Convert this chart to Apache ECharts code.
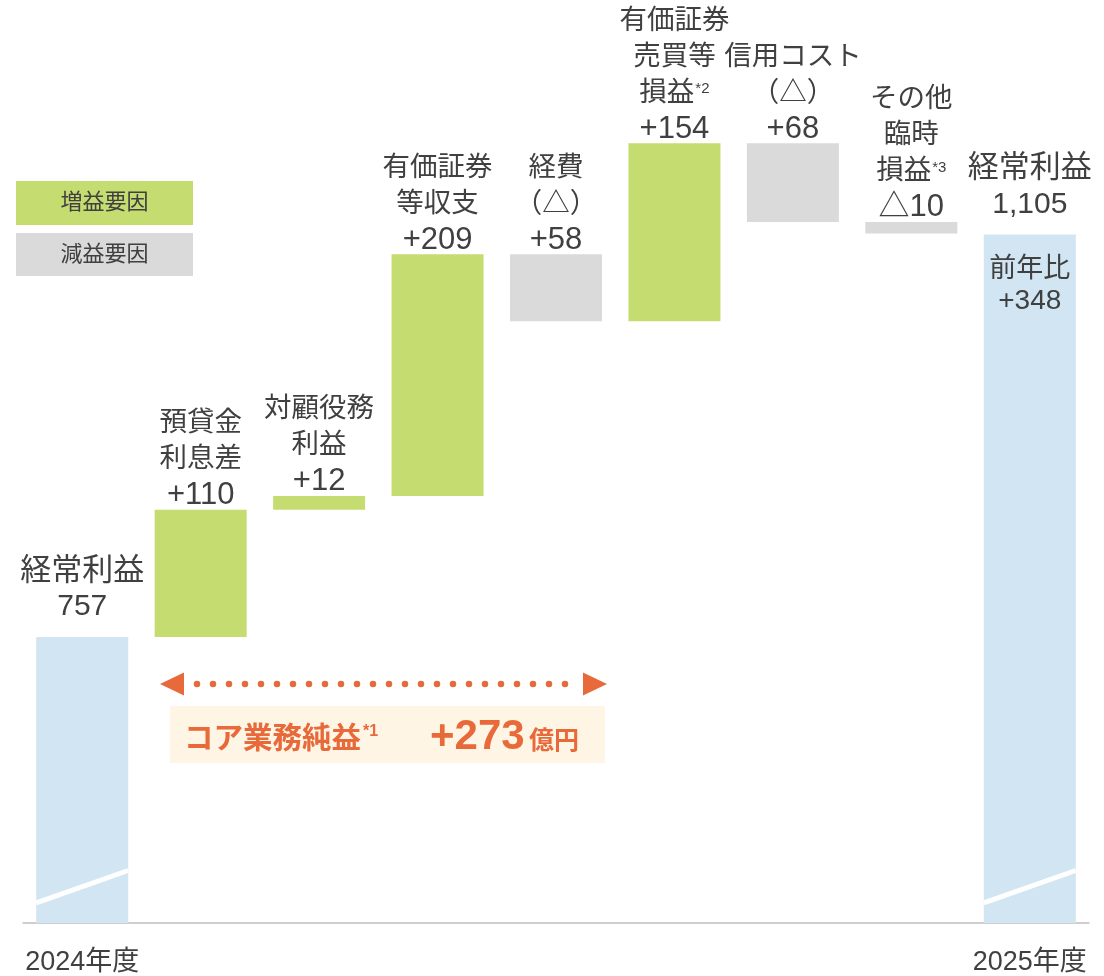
<!DOCTYPE html>
<html>
<head>
<meta charset="utf-8">
<script src="https://cdn.jsdelivr.net/npm/echarts@6/dist/echarts.min.js"></script>
<style>
html,body{margin:0;padding:0;background:#fff;}
#chart{width:1104px;height:976px;}
</style>
</head>
<body>
<div id="chart"></div>
<script>
// ---- data ----
const categories = ['経常利益(2024年度)', '預貸金利息差', '対顧役務利益', '有価証券等収支', '経費', '有価証券売買等損益', '信用コスト', 'その他臨時損益', '経常利益(2025年度)'];
const labelLines = ['経常利益', '預貸金\n利息差', '対顧役務\n利益', '有価証券\n等収支', '経費\n（△）', '有価証券\n売買等\n損益', '信用コスト\n（△）', 'その他\n臨時\n損益', '経常利益'];
const notes = ['', '', '', '', '', '*2', '', '*3', ''];
const values = [757, 110, 12, 209, -58, 154, -68, -10, 1105];
const valueLabels = ['757', '+110', '+12', '+209', '+58', '+154', '+68', '△10', '1,105'];
const tickLabels = ['2024年度', '', '', '', '', '', '', '', '2025年度'];
const yoyLabel = ['前年比', '+348'];
const legendLabels = ['増益要因', '減益要因'];
const coreLabel = 'コア業務純益';
const coreNote = '*1';
const coreValue = '+273';
const coreUnit = '億円';

// ---- styles ----
const FONT = '"Liberation Sans", Arial, "Noto Sans CJK JP", sans-serif';
const TXT = '#404040';
const GREEN = '#c5dd70';
const GRAY = '#dadada';
const BLUE = '#d1e5f2';
const ORANGE = '#e8693a';
const BW = 92;
const BREAK = [527, 555];

const last = values.length - 1;
const base = [], up = [], down = [], total = [], yoy = [], breaks = [];
let cum = 0;
values.forEach((v, i) => {
  if (i === 0 || i === last) {
    base.push(0); up.push('-'); down.push('-'); total.push(v);
    yoy.push(i === last ? v : '-');
    breaks.push([i, v]);
    cum = v;
  } else {
    const s = cum, e = cum + v;
    base.push(Math.min(s, e));
    up.push(v > 0 ? v : '-');
    down.push(v < 0 ? -v : '-');
    total.push('-');
    yoy.push('-');
    cum = e;
  }
});

function midLabel(i) {
  const lines = labelLines[i].split('\n');
  const parts = lines.map((l, k) => '{n|' + l + '}' + (k === lines.length - 1 && notes[i] ? '{s|' + notes[i] + '}' : ''));
  return parts.join('\n') + '\n{v|' + valueLabels[i] + '}';
}
const midRich = {
  n: { fontSize: 27.5, lineHeight: 36, color: TXT, fontFamily: FONT },
  s: { fontSize: 15, lineHeight: 36, color: TXT, fontFamily: FONT, padding: [0, 0, 8, 1] },
  v: { fontSize: 31, lineHeight: 36, color: TXT, fontFamily: FONT }
};

const chart = echarts.init(document.getElementById('chart'), null, { renderer: 'canvas' });
const option = {
  animation: false,
  grid: { left: 23, right: 15, top: 0, bottom: 50 },
  xAxis: {
    type: 'category',
    data: categories,
    axisLine: { show: true, lineStyle: { color: '#c0c0c0', width: 1.5 } },
    axisTick: { show: false },
    axisLabel: {
      interval: 0,
      margin: 26,
      fontSize: 27,
      color: TXT,
      fontFamily: FONT,
      formatter: (v, i) => tickLabels[i]
    }
  },
  yAxis: { type: 'value', min: 509.6, max: 1307.9, show: false, splitLine: { show: false } },
  series: [
    { name: 'base', type: 'bar', stack: 'w', barWidth: BW, barGap: '-100%', data: base, itemStyle: { color: 'transparent' }, silent: true, clip: true },
    { name: '増益要因', type: 'bar', stack: 'w', barWidth: BW, barGap: '-100%', data: up, itemStyle: { color: GREEN }, clip: true,
      label: { show: true, position: 'top', distance: -4, formatter: p => midLabel(p.dataIndex), rich: midRich, align: 'center' } },
    { name: '減益要因', type: 'bar', stack: 'w', barWidth: BW, barGap: '-100%', data: down, itemStyle: { color: GRAY }, clip: true,
      label: { show: true, position: 'top', distance: -4, formatter: p => midLabel(p.dataIndex), rich: midRich, align: 'center' } },
    { name: '経常利益', type: 'bar', stack: 'w', barWidth: BW, barGap: '-100%', data: total, itemStyle: { color: BLUE }, clip: true,
      label: { show: true, position: 'top', distance: 12,
        formatter: p => '{bn|' + labelLines[p.dataIndex] + '}\n{bv|' + valueLabels[p.dataIndex] + '}',
        rich: {
          bn: { fontSize: 31, lineHeight: 36, color: TXT, fontFamily: FONT },
          bv: { fontSize: 30, lineHeight: 36, color: TXT, fontFamily: FONT }
        } } },
    { name: 'yoy', type: 'bar', stack: 'o', barWidth: BW, barGap: '-100%', data: yoy, itemStyle: { color: 'transparent' }, silent: true, clip: true,
      label: { show: true, position: 'insideTop', distance: 19,
        formatter: () => '{a|' + yoyLabel[0] + '}\n{b|' + yoyLabel[1] + '}',
        rich: {
          a: { fontSize: 27, lineHeight: 32, color: TXT, fontFamily: FONT },
          b: { fontSize: 28, lineHeight: 32, color: TXT, fontFamily: FONT }
        } } },
    { name: 'break', type: 'custom', data: breaks, silent: true, z: 5,
      renderItem: (params, api) => {
        const i = api.value(0);
        const p1 = api.coord([i, BREAK[0]]);
        const p2 = api.coord([i, BREAK[1]]);
        return { type: 'line', shape: { x1: p1[0] - BW / 2, y1: p1[1], x2: p2[0] + BW / 2, y2: p2[1] },
          style: { stroke: '#ffffff', lineWidth: 5 } };
      } }
  ],
  graphic: [
    { type: 'rect', shape: { x: 16, y: 181, width: 177, height: 44 }, style: { fill: GREEN } },
    { type: 'text', x: 104.5, y: 203, style: { text: legendLabels[0], fontSize: 22, fill: TXT, fontFamily: FONT, align: 'center', verticalAlign: 'middle' } },
    { type: 'rect', shape: { x: 16, y: 233, width: 177, height: 43 }, style: { fill: GRAY } },
    { type: 'text', x: 104.5, y: 255, style: { text: legendLabels[1], fontSize: 22, fill: TXT, fontFamily: FONT, align: 'center', verticalAlign: 'middle' } },
    // core profit arrow
    { type: 'polygon', shape: { points: [[160, 684], [184, 672.5], [184, 695.5]] }, style: { fill: ORANGE } },
    { type: 'polygon', shape: { points: [[607, 684], [583, 672.5], [583, 695.5]] }, style: { fill: ORANGE } },
    { type: 'line', shape: { x1: 197, y1: 684, x2: 581, y2: 684 }, style: { stroke: ORANGE, lineWidth: 6.5, lineCap: 'round', lineDash: [0, 16] } },
    { type: 'rect', shape: { x: 170, y: 706, width: 435, height: 57 }, style: { fill: '#fef5e4' } },
    { type: 'text', x: 184, y: 740, style: { text: '{a|' + coreLabel + '}{s|' + coreNote + '}',
        rich: {
          a: { fontSize: 29.5, fontWeight: 'bold', fill: ORANGE, fontFamily: FONT, lineHeight: 40 },
          s: { fontSize: 16, fontWeight: 'bold', fill: ORANGE, fontFamily: FONT, lineHeight: 40, padding: [0, 0, 16, 2] }
        }, align: 'left', verticalAlign: 'middle' } },
    { type: 'text', x: 430, y: 737, style: { text: coreValue, fontSize: 42, fontWeight: 'bold', fill: ORANGE, fontFamily: FONT, align: 'left', verticalAlign: 'middle' } },
    { type: 'text', x: 529, y: 742, style: { text: coreUnit, fontSize: 25, fontWeight: 'bold', fill: ORANGE, fontFamily: FONT, align: 'left', verticalAlign: 'middle' } }
  ]
};
chart.setOption(option);
</script>
</body>
</html>
